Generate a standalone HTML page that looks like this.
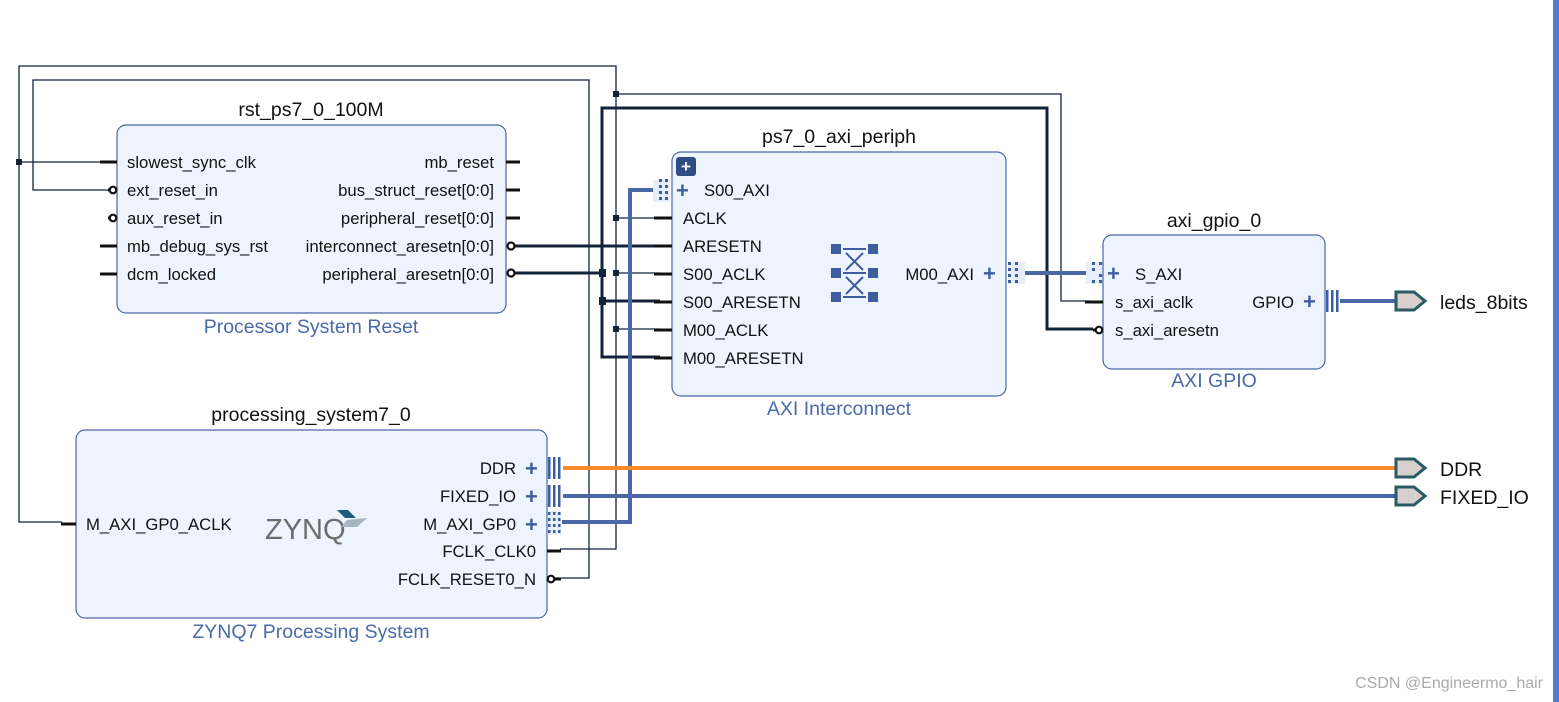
<!DOCTYPE html>
<html><head><meta charset="utf-8"><style>
html,body{margin:0;padding:0;background:#fff;width:1559px;height:702px;overflow:hidden}
svg{display:block}
text{font-family:"Liberation Sans",sans-serif;fill:#111}
.pin{font-size:16.7px}
.title{font-size:19.5px}
.sub{font-size:19.5px;fill:#4a6aa8}
</style></head><body>
<svg width="1559" height="702" viewBox="0 0 1559 702" xmlns="http://www.w3.org/2000/svg">
<rect x="1553" y="0" width="6" height="702" fill="#4a7fd0"/>
<!-- thin wires -->
<g stroke="#13233a" stroke-width="1.3" fill="none">
<polyline points="100,162 19,162"/>
<polyline points="62,522 19,522 19,66 616,66 616,549 560,549"/>
<polyline points="108,190 33,190 33,80 589,80 589,578 556,578"/>
<polyline points="616,94 1061,94 1061,301 1090,301"/>
<line x1="616" y1="218" x2="660" y2="218"/>
<line x1="616" y1="273" x2="660" y2="273"/>
<line x1="616" y1="329" x2="660" y2="329"/>
</g>
<g fill="#13233a">
<rect x="16" y="159" width="6" height="6"/>
<rect x="613" y="91" width="6" height="6"/>
<rect x="613" y="215" width="6" height="6"/>
<rect x="613" y="270" width="6" height="6"/>
<rect x="613" y="326" width="6" height="6"/>
<rect x="599" y="269" width="7" height="8"/>
<rect x="599" y="297" width="7" height="8"/>
</g>
<!-- thick wires -->
<g stroke="#13233a" stroke-width="3" fill="none">
<line x1="514" y1="246" x2="660" y2="246"/>
<line x1="514" y1="273" x2="602" y2="273"/>
<polyline points="660,357 602,357 602,108 1047,108 1047,329 1093,329"/>
<line x1="602" y1="301" x2="660" y2="301"/>
</g>
<!-- buses -->
<polyline points="562,522 630,522 630,190 660,190" stroke="#4a67a6" stroke-width="4" fill="none"/>
<line x1="1022" y1="273" x2="1090" y2="273" stroke="#4a67a6" stroke-width="4"/>
<line x1="1340" y1="301" x2="1395" y2="301" stroke="#4a67a6" stroke-width="4"/>
<line x1="563" y1="468" x2="1395" y2="468" stroke="#f58a2b" stroke-width="4"/>
<line x1="563" y1="496" x2="1395" y2="496" stroke="#4a67a6" stroke-width="4"/>
<!-- ports -->
<g fill="#d8d0cc" stroke="#2a5a66" stroke-width="3">
<polygon points="1396,292 1414,292 1425,301 1414,310 1396,310"/>
<polygon points="1396,459 1414,459 1425,468 1414,477 1396,477"/>
<polygon points="1396,487 1414,487 1425,496 1414,505 1396,505"/>
</g>
<text x="1440" y="309" style="font-size:19.5px">leds_8bits</text>
<text x="1440" y="476" style="font-size:19.5px">DDR</text>
<text x="1440" y="504" style="font-size:19.5px">FIXED_IO</text>
<text x="1543" y="688" text-anchor="end" style="font-size:16px;fill:#aaa">CSDN @Engineermo_hair</text>

<!-- rst block -->
<rect x="117" y="125" width="389" height="188" rx="9" fill="#edf4fe" stroke="#4a67a6" stroke-width="1.2"/>
<text class="title" x="311" y="116" text-anchor="middle">rst_ps7_0_100M</text>
<text class="sub" x="311" y="333" text-anchor="middle">Processor System Reset</text>
<g stroke="#111" stroke-width="3">
<line x1="100" y1="162" x2="117" y2="162"/><line x1="100" y1="246" x2="117" y2="246"/><line x1="100" y1="274" x2="117" y2="274"/>
<line x1="108" y1="190" x2="117" y2="190"/><line x1="108" y1="218" x2="117" y2="218"/>
<line x1="506" y1="162" x2="520" y2="162"/><line x1="506" y1="190" x2="520" y2="190"/><line x1="506" y1="218" x2="520" y2="218"/>
</g>
<g fill="#fff" stroke="#111" stroke-width="2.2"><circle cx="113" cy="190" r="3.3"/><circle cx="113" cy="218" r="3.3"/><circle cx="511" cy="246" r="3.5"/><circle cx="511" cy="273" r="3.5"/></g>
<g class="pin">
<text x="127" y="168">slowest_sync_clk</text><text x="127" y="196">ext_reset_in</text><text x="127" y="224">aux_reset_in</text><text x="127" y="252">mb_debug_sys_rst</text><text x="127" y="280">dcm_locked</text>
<text x="494" y="168" text-anchor="end">mb_reset</text><text x="494" y="196" text-anchor="end">bus_struct_reset[0:0]</text><text x="494" y="224" text-anchor="end">peripheral_reset[0:0]</text><text x="494" y="252" text-anchor="end">interconnect_aresetn[0:0]</text><text x="494" y="280" text-anchor="end">peripheral_aresetn[0:0]</text>
</g>

<!-- interconnect -->
<rect x="672" y="152" width="334" height="244" rx="9" fill="#edf4fe" stroke="#4a67a6" stroke-width="1.2"/>
<text class="title" x="839" y="143" text-anchor="middle">ps7_0_axi_periph</text>
<text class="sub" x="839" y="415" text-anchor="middle">AXI Interconnect</text>
<rect x="676" y="157" width="20" height="19" rx="3" fill="#2f4c85"/>
<text x="686" y="172" text-anchor="middle" style="font-size:17px;fill:#fff;font-weight:bold">+</text>
<g stroke="#111" stroke-width="3">
<line x1="654" y1="218" x2="672" y2="218"/><line x1="654" y1="246" x2="672" y2="246"/><line x1="654" y1="274" x2="672" y2="274"/><line x1="654" y1="302" x2="672" y2="302"/><line x1="654" y1="330" x2="672" y2="330"/><line x1="654" y1="358" x2="672" y2="358"/>
</g>
<g fill="#3d5e9e">
<rect x="653" y="180" width="17" height="22" fill="#e6eef9"/>
<rect x="659" y="179" width="3" height="3"/><rect x="665" y="179" width="3" height="3"/><rect x="659" y="185" width="3" height="3"/><rect x="665" y="185" width="3" height="3"/><rect x="659" y="191" width="3" height="3"/><rect x="665" y="191" width="3" height="3"/><rect x="659" y="197" width="3" height="3"/><rect x="665" y="197" width="3" height="3"/>
<rect x="1008" y="262" width="17" height="22" fill="#e6eef9"/>
<rect x="1008" y="262" width="3" height="3"/><rect x="1015" y="262" width="3" height="3"/><rect x="1008" y="268" width="3" height="3"/><rect x="1015" y="268" width="3" height="3"/><rect x="1008" y="274" width="3" height="3"/><rect x="1015" y="274" width="3" height="3"/><rect x="1008" y="280" width="3" height="3"/><rect x="1015" y="280" width="3" height="3"/>
<rect x="1086" y="262" width="17" height="22" fill="#e6eef9"/>
<rect x="1092" y="262" width="3" height="3"/><rect x="1099" y="262" width="3" height="3"/><rect x="1092" y="268" width="3" height="3"/><rect x="1099" y="274" width="3" height="3"/><rect x="1092" y="280" width="3" height="3"/><rect x="1099" y="280" width="3" height="3"/>
<rect x="831" y="244" width="10" height="10"/><rect x="868" y="244" width="10" height="10"/>
<rect x="831" y="268" width="10" height="10"/><rect x="868" y="268" width="10" height="10"/>
<rect x="831" y="292" width="10" height="10"/><rect x="868" y="292" width="10" height="10"/>
</g>
<g stroke="#3d5e9e" stroke-width="2" fill="none">
<line x1="843" y1="249" x2="866" y2="249"/><line x1="843" y1="273" x2="866" y2="273"/><line x1="843" y1="297" x2="866" y2="297"/>
<line x1="846" y1="253" x2="863" y2="270"/><line x1="863" y1="253" x2="846" y2="270"/>
<line x1="846" y1="277" x2="863" y2="294"/><line x1="863" y1="277" x2="846" y2="294"/>
</g>
<g class="pin">
<text x="704" y="196">S00_AXI</text><text x="683" y="224">ACLK</text><text x="683" y="252">ARESETN</text><text x="683" y="280">S00_ACLK</text><text x="683" y="308">S00_ARESETN</text><text x="683" y="336">M00_ACLK</text><text x="683" y="364">M00_ARESETN</text>
<text x="974" y="280" text-anchor="end">M00_AXI</text>
</g>
<g style="font-size:22px;font-weight:bold">
<text x="676" y="198" style="fill:#3d5e9e">+</text><text x="983" y="281" style="fill:#3d5e9e">+</text>
</g>

<!-- axi gpio -->
<rect x="1103" y="235" width="222" height="134" rx="9" fill="#edf4fe" stroke="#4a67a6" stroke-width="1.2"/>
<text class="title" x="1214" y="227" text-anchor="middle">axi_gpio_0</text>
<text class="sub" x="1214" y="387" text-anchor="middle">AXI GPIO</text>
<line x1="1085" y1="302" x2="1103" y2="302" stroke="#111" stroke-width="3"/>
<line x1="1093" y1="330" x2="1103" y2="330" stroke="#111" stroke-width="3"/>
<circle cx="1099" cy="330" r="3.3" fill="#fff" stroke="#111" stroke-width="2.2"/>
<g class="pin"><text x="1135" y="280">S_AXI</text><text x="1115" y="308">s_axi_aclk</text><text x="1115" y="336">s_axi_aresetn</text><text x="1294" y="308" text-anchor="end">GPIO</text></g>
<g style="font-size:22px;font-weight:bold"><text x="1107" y="281" style="fill:#3d5e9e">+</text><text x="1303" y="309" style="fill:#3d5e9e">+</text></g>
<g fill="#3d5e9e"><rect x="1326" y="290" width="2.5" height="22"/><rect x="1331" y="290" width="2.5" height="22"/><rect x="1336" y="290" width="2.5" height="22"/></g>

<!-- processing system -->
<rect x="76" y="430" width="471" height="188" rx="9" fill="#edf4fe" stroke="#4a67a6" stroke-width="1.2"/>
<text class="title" x="311" y="421" text-anchor="middle">processing_system7_0</text>
<text class="sub" x="311" y="638" text-anchor="middle">ZYNQ7 Processing System</text>
<line x1="61" y1="524" x2="76" y2="524" stroke="#111" stroke-width="3"/>
<line x1="547" y1="551" x2="561" y2="551" stroke="#111" stroke-width="3"/>
<line x1="550" y1="579" x2="561" y2="579" stroke="#111" stroke-width="3"/>
<circle cx="551" cy="579" r="3.3" fill="#fff" stroke="#111" stroke-width="2.2"/>
<g class="pin"><text x="86" y="530">M_AXI_GP0_ACLK</text>
<text x="516" y="474" text-anchor="end">DDR</text><text x="516" y="502" text-anchor="end">FIXED_IO</text><text x="516" y="530" text-anchor="end">M_AXI_GP0</text><text x="536" y="557" text-anchor="end">FCLK_CLK0</text><text x="536" y="585" text-anchor="end">FCLK_RESET0_N</text></g>
<g style="font-size:22px;font-weight:bold"><text x="525" y="476" style="fill:#3d5e9e">+</text><text x="525" y="504" style="fill:#3d5e9e">+</text><text x="525" y="532" style="fill:#3d5e9e">+</text></g>
<g fill="#3d5e9e">
<rect x="548" y="457" width="2.5" height="22"/><rect x="553" y="457" width="2.5" height="22"/><rect x="558" y="457" width="2.5" height="22"/>
<rect x="548" y="485" width="2.5" height="22"/><rect x="553" y="485" width="2.5" height="22"/><rect x="558" y="485" width="2.5" height="22"/>
<rect x="548" y="511" width="13" height="24" fill="#e6eef9"/>
<rect x="548" y="512" width="2.5" height="3"/><rect x="548" y="518" width="2.5" height="3"/><rect x="548" y="524" width="2.5" height="3"/><rect x="548" y="530" width="2.5" height="3"/>
<rect x="553" y="512" width="2.5" height="3"/><rect x="553" y="518" width="2.5" height="3"/><rect x="553" y="524" width="2.5" height="3"/><rect x="553" y="530" width="2.5" height="3"/>
<rect x="558" y="512" width="2.5" height="3"/><rect x="558" y="518" width="2.5" height="3"/><rect x="558" y="524" width="2.5" height="3"/><rect x="558" y="530" width="2.5" height="3"/>
</g>
<text x="265" y="539" style="font-size:29px;fill:#6d6d6d">ZYNQ</text>
<polygon points="337,510 348,510 356,518 345,518" fill="#1f5b7a"/>
<polygon points="347,520 367,518 357,527 341,527" fill="#a7b5c0"/>
</svg>
</body></html>
